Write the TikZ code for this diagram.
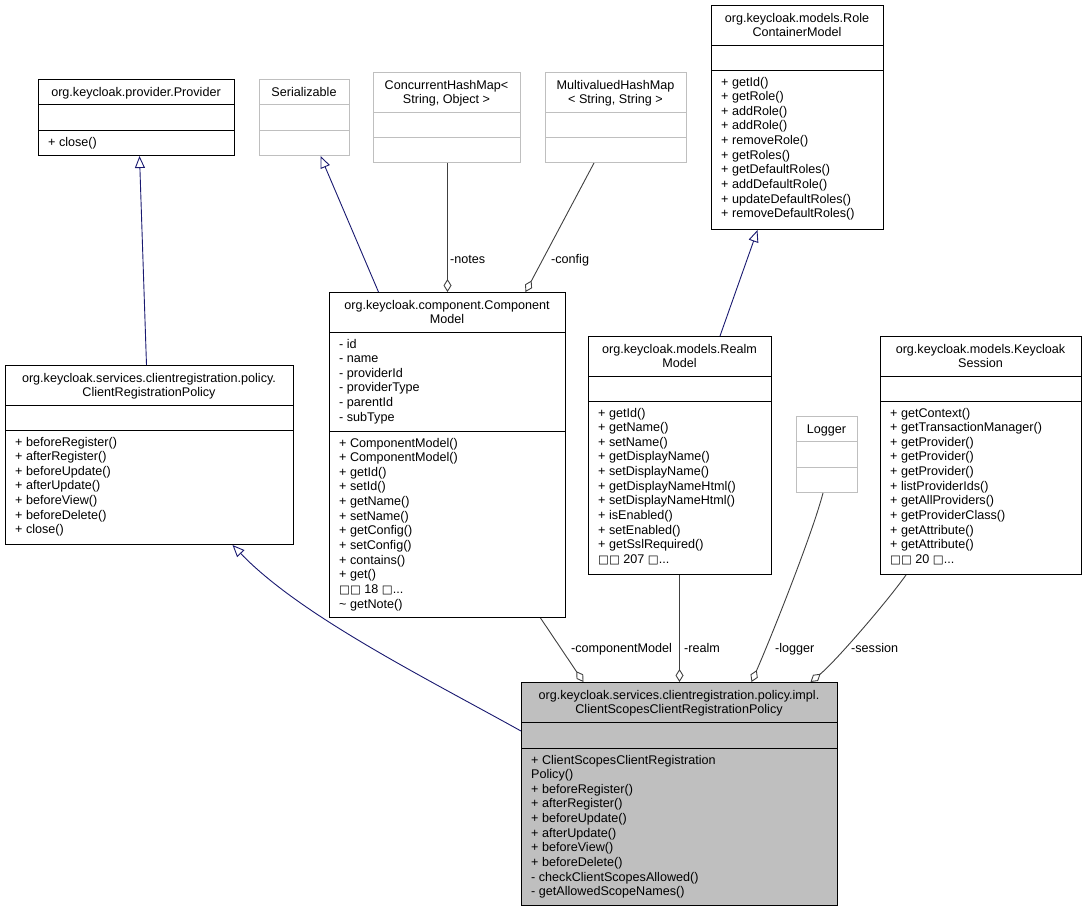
\documentclass[tikz,border=0pt]{standalone}
\usepackage{fontspec}
\setmainfont{Liberation Sans}
\newfontfamily\symfont{DejaVu Sans}
\usetikzlibrary{arrows.meta,calc}
\definecolor{edgeblue}{HTML}{191970}
\definecolor{edgegrey}{HTML}{404040}
\definecolor{boxgrey}{HTML}{BFBFBF}
\newcommand{\moredots}{...}
\newcommand{\nobox}{{\symfont\fontsize{11.5}{14}\selectfont □}}
\newcommand{\umlclass}[8]{%
  \node[#2, minimum width=#5-#3, minimum height=#8-#4] (#1) at (#3,#4) {};
  \draw[#2] (#3,#6) -- (#5,#6) (#3,#7) -- (#5,#7);
}
\newcommand{\titles}[4]{%
  \foreach \m [count=\i from 0] in {#4}
    \node[clstitle] (#1-t\i) at (#2,#3+\i*14.6) {\m};
}
\newcommand{\members}[4]{%
  \foreach \m [count=\i from 0] in {#4}
    \node[clsmember] (#1-\i) at (#2,#3+\i*14.65) {\m};
}
\tikzset{
  cls/.style={draw=black, line width=1pt, anchor=north west, inner sep=0pt},
  extcls/.style={cls, draw=boxgrey},
  clstitle/.style={anchor=base, inner sep=0pt},
  clsmember/.style={anchor=base west, inner sep=0pt},
  rolelabel/.style={anchor=base west, inner sep=0pt},
  inherit/.style={draw=edgeblue, line width=0.9pt, -{Triangle[open,length=12pt,width=10pt]}},
  usage/.style={draw=edgegrey, line width=0.9pt, {Diamond[open,length=13pt,width=8pt]}-}
}
\begin{document}
\begin{tikzpicture}[x=1pt, y=-1pt, font=\fontsize{12.6}{14.65}\selectfont]
\useasboundingbox (0,0) rectangle (1087,911);

\umlclass{provider}{cls}{38}{79}{234}{104}{130}{155}
\titles{provider}{136}{96}{org.keycloak.provider.Provider}
\members{provider-o}{48}{146}{+ close()}

\umlclass{serial}{extcls}{259}{79}{349}{104}{130}{155}
\titles{serial}{304}{96}{Serializable}

\umlclass{conc}{extcls}{373}{72}{520}{112}{137}{162}
\titles{conc}{446.5}{89.2}{ConcurrentHashMap<, {String, Object >}}

\umlclass{multi}{extcls}{545}{72}{686}{112}{137}{162}
\titles{multi}{615.5}{89.2}{MultivaluedHashMap, {< String, String >}}

\umlclass{role}{cls}{711}{5}{883}{45}{70}{229}
\titles{role}{797}{22.2}{org.keycloak.models.Role, ContainerModel}
\members{role-o}{721}{86}{+ getId(), + getRole(), + addRole(), + addRole(), + removeRole(), + getRoles(), + getDefaultRoles(), + addDefaultRole(), + updateDefaultRoles(), + removeDefaultRoles()}

\umlclass{comp}{cls}{329}{292}{565}{332}{431}{617}
\titles{comp}{447}{309.2}{org.keycloak.component.Component, Model}
\members{comp-a}{339}{348}{- id, - name, - providerId, - providerType, - parentId, - subType}
\members{comp-o}{339}{447}{+ ComponentModel(), + ComponentModel(), + getId(), + setId(), + getName(), + setName(), + getConfig(), + setConfig(), + contains(), + get(), \nobox\nobox{} 18 \nobox\moredots, \textasciitilde{} getNote()}

\umlclass{crp}{cls}{5}{365}{293}{405}{430}{544}
\titles{crp}{149}{382.2}{org.keycloak.services.clientregistration.policy., ClientRegistrationPolicy}
\members{crp-o}{15}{446}{+ beforeRegister(), + afterRegister(), + beforeUpdate(), + afterUpdate(), + beforeView(), + beforeDelete(), + close()}

\umlclass{realm}{cls}{588}{336}{771}{376}{401}{574}
\titles{realm}{679.5}{353.2}{org.keycloak.models.Realm, Model}
\members{realm-o}{598}{417}{+ getId(), + getName(), + setName(), + getDisplayName(), + setDisplayName(), + getDisplayNameHtml(), + setDisplayNameHtml(), + isEnabled(), + setEnabled(), + getSslRequired(), \nobox\nobox{} 207 \nobox\moredots}

\umlclass{logger}{extcls}{796}{416}{857}{441}{467}{492}
\titles{logger}{826.5}{433}{Logger}

\umlclass{session}{cls}{880}{336}{1081}{376}{401}{574}
\titles{session}{980.5}{353.2}{org.keycloak.models.Keycloak, Session}
\members{session-o}{890}{417}{+ getContext(), + getTransactionManager(), + getProvider(), + getProvider(), + getProvider(), + listProviderIds(), + getAllProviders(), + getProviderClass(), + getAttribute(), + getAttribute(), \nobox\nobox{} 20 \nobox\moredots}

\umlclass{main}{cls, fill=boxgrey}{521}{682}{837}{722}{748}{905}
\titles{main}{679}{699.2}{org.keycloak.services.clientregistration.policy.impl., ClientScopesClientRegistrationPolicy}
\members{main-o}{531}{764}{+ ClientScopesClientRegistration, Policy(), + beforeRegister(), + afterRegister(), + beforeUpdate(), + afterUpdate(), + beforeView(), + beforeDelete(), - checkClientScopesAllowed(), - getAllowedScopeNames()}

% inheritance
\draw[inherit] ($(crp.north)+(-3,0)$) -- ($(provider.south)+(3,0)$);
\draw[inherit] ($(comp.north)+(-69,0)$) -- ($(serial.south)+(16,0)$);
\draw[inherit] ($(realm.north)+(40,0)$) -- ($(role.south)+(-40,0)$);
\draw[inherit] ($(main.north west)+(0,49)$) .. controls (420,675) and (300,615) .. ($(crp.south)+(83,0)$);

% members used
\draw[usage] (comp.north) -- (comp.north |- conc.south);
\draw[usage] ($(comp.north)+(78,0)$) -- ($(multi.south)+(-22,0)$);
\draw[usage] ($(main.north)+(-96,0)$) -- ($(comp.south)+(93,0)$);
\draw[usage] (main.north) -- (main.north |- realm.south);
\draw[usage] ($(main.north)+(72,0)$) .. controls (770,640) and (812,535) .. ($(logger.south)+(-4,0)$);
\draw[usage] ($(main.north)+(131,0)$) .. controls (835,662) and (886,603) .. ($(session.south)+(-75,0)$);

\node[rolelabel] (l-notes) at (450,263.5) {-notes};
\node[rolelabel] (l-config) at (551,263.5) {-config};
\node[rolelabel] (l-comp) at (571,652.5) {-componentModel};
\node[rolelabel] (l-realm) at (684,652.5) {-realm};
\node[rolelabel] (l-logger) at (775,652.5) {-logger};
\node[rolelabel] (l-session) at (851,652.5) {-session};
\end{tikzpicture}
\end{document}
